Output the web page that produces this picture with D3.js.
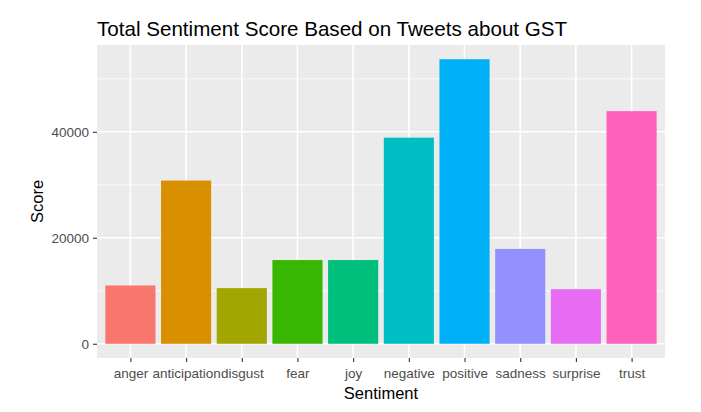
<!DOCTYPE html>
<html>
<head>
<meta charset="utf-8">
<script src="https://cdn.jsdelivr.net/npm/d3@7"></script>
<style>
  html, body { margin: 0; padding: 0; background: #fff; }
  svg { display: block; font-family: "Liberation Sans", Arial, sans-serif; }
</style>
</head>
<body>
<svg id="chart" width="701" height="412"></svg>
<script>
const categories = ["anger", "anticipation", "disgust", "fear", "joy", "negative", "positive", "sadness", "surprise", "trust"];
const scores = [11000, 30800, 10500, 15800, 15800, 38900, 53700, 17900, 10300, 43900];
const barColors = ["#F8766D", "#D89000", "#A3A500", "#39B600", "#00BF7D", "#00BFC4", "#00B0F6", "#9590FF", "#E76BF3", "#FF62BC"];
const yTicks = [0, 20000, 40000];
const yMinor = [10000, 30000, 50000];

const svg = d3.select("#chart");
const panel = { left: 97, right: 665, top: 45, bottom: 358 };

const maxV = d3.max(scores);
const pad = maxV * 0.05;
const y = d3.scaleLinear().domain([-pad, maxV + pad]).range([panel.bottom, panel.top]);

const n = categories.length;
const x = d3.scaleLinear().domain([0.4, n + 0.6]).range([panel.left, panel.right]);
const barW = x(0.9) - x(0);

// panel background
svg.append("rect")
  .attr("x", panel.left).attr("y", panel.top)
  .attr("width", panel.right - panel.left).attr("height", panel.bottom - panel.top)
  .attr("fill", "#EBEBEB");

// minor grid
svg.selectAll(".minor").data(yMinor).enter().append("line")
  .attr("x1", panel.left).attr("x2", panel.right)
  .attr("y1", d => y(d)).attr("y2", d => y(d))
  .attr("stroke", "#fff").attr("stroke-width", 0.8);

// major grid
svg.selectAll(".major").data(yTicks).enter().append("line")
  .attr("x1", panel.left).attr("x2", panel.right)
  .attr("y1", d => y(d)).attr("y2", d => y(d))
  .attr("stroke", "#fff").attr("stroke-width", 1.6);

svg.selectAll(".vgrid").data(categories).enter().append("line")
  .attr("x1", (d, i) => x(i + 1)).attr("x2", (d, i) => x(i + 1))
  .attr("y1", panel.top).attr("y2", panel.bottom)
  .attr("stroke", "#fff").attr("stroke-width", 1.6);

// bars
svg.selectAll(".bar").data(scores).enter().append("rect")
  .attr("x", (d, i) => x(i + 1) - barW / 2)
  .attr("width", barW)
  .attr("y", d => y(d))
  .attr("height", d => y(0) - y(d))
  .attr("fill", (d, i) => barColors[i]);

// y axis
const yAxis = d3.axisLeft(y).tickValues(yTicks).tickSize(4).tickPadding(4).tickFormat(d3.format("d"));
const gy = svg.append("g").attr("transform", `translate(${panel.left},0)`).call(yAxis);
gy.select(".domain").remove();
gy.selectAll(".tick line").attr("stroke", "#333").attr("stroke-width", 1.1);
gy.selectAll(".tick text").attr("fill", "#4D4D4D").style("font-size", "13.5px").attr("font-family", "Liberation Sans, Arial, sans-serif");

// x axis
const xAxis = d3.axisBottom(x).tickValues(d3.range(1, n + 1)).tickSize(4).tickPadding(6).tickFormat(i => categories[i - 1]);
const gx = svg.append("g").attr("transform", `translate(0,${panel.bottom})`).call(xAxis);
gx.select(".domain").remove();
gx.selectAll(".tick line").attr("stroke", "#333").attr("stroke-width", 1.1);
gx.selectAll(".tick text").attr("fill", "#4D4D4D").style("font-size", "13.5px").attr("font-family", "Liberation Sans, Arial, sans-serif");

// axis titles
svg.append("text")
  .attr("x", (panel.left + panel.right) / 2).attr("y", 399)
  .attr("text-anchor", "middle").attr("fill", "#000")
  .style("font-size", "16.5px").text("Sentiment");

svg.append("text")
  .attr("transform", `translate(43,${(panel.top + panel.bottom) / 2}) rotate(-90)`)
  .attr("text-anchor", "middle").attr("fill", "#000")
  .style("font-size", "16.5px").text("Score");

// title
svg.append("text")
  .attr("x", panel.left).attr("y", 36)
  .attr("fill", "#000")
  .style("font-size", "20.6px").text("Total Sentiment Score Based on Tweets about GST");
</script>
</body>
</html>
